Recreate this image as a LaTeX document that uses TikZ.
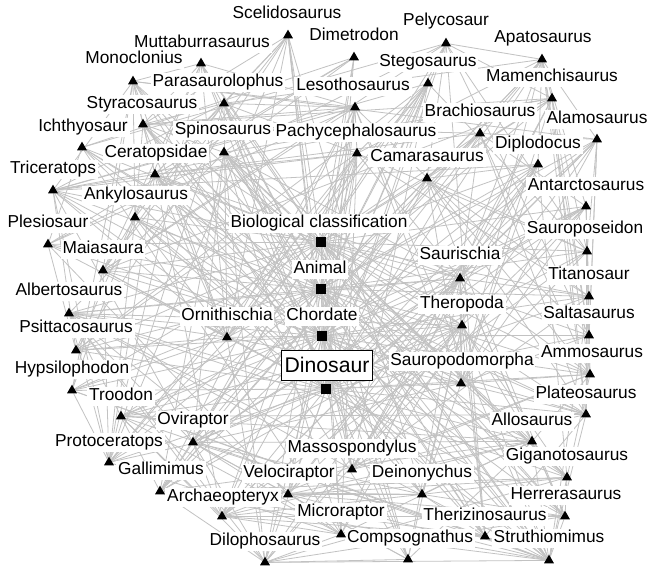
\documentclass[tikz,border=0pt]{standalone}
\usepackage{fontspec}
\setmainfont{Liberation Sans}
\usetikzlibrary{shapes.geometric}
\pgfdeclarelayer{bglayer}
\pgfdeclarelayer{edgelayer}
\pgfdeclarelayer{marklayer}
\pgfsetlayers{bglayer,edgelayer,main,marklayer}
\tikzset{
  edge/.style={draw=black!24, line width=0.8pt},
  tri/.style={regular polygon, regular polygon sides=3, fill=black, draw=none, inner sep=0pt, minimum size=11.5pt},
  sq/.style={rectangle, fill=black, draw=none, inner sep=0pt, minimum size=9.5pt},
  lab/.style={fill=white, inner sep=1.8pt, text height=12.6pt, text depth=3.7pt, font=\fontsize{17.3}{20}\selectfont},
  dinobox/.style={draw=black, line width=0.8pt, fill=white, minimum width=91pt, minimum height=30pt, inner sep=2pt, font=\fontsize{21.2}{25}\selectfont}
}
\def\nodedata{%
dino/Dinosaur/326/389/327/363.5/8/dinobox,
chor/Chordate/322/336/322/315/8/lab,
anim/Animal/321/289/320/268/8/lab,
bio/Biological classification/321/242/319/222/8/lab,
orni/Ornithischia/227/336/227/315/11/lab,
sauri/Saurischia/460/277/460/254/12/lab,
thero/Theropoda/462/324/462/303/13/lab,
saurop/Sauropodomorpha/461/382/462/360/14/lab,
scel/Scelidosaurus/288/34/287/13/1/lab,
mutt/Muttaburrasaurus/201/62/202/42/1/lab,
mono/Monoclonius/133/80/134/58/1/lab,
steg/Stegosaurus/428/82/428/61/1/lab,
para/Parasaurolophus/224/102/218/81/1/lab,
leso/Lesothosaurus/355/106/353/85/1/lab,
styr/Styracosaurus/143/123/142/103/1/lab,
pach/Pachycephalosaurus/357/152/356/131/1/lab,
cera/Ceratopsidae/155/173/156/152/1/lab,
tric/Triceratops/53/189/53/168/1/lab,
anky/Ankylosaurus/135/216/136/194/1/lab,
maia/Maiasaura/103/269/103/248/1/lab,
psit/Psittacosaurus/76/349/76/327/1/lab,
hyps/Hypsilophodon/72/389/72/368/1/lab,
prot/Protoceratops/109/461/109/441/1/lab,
apat/Apatosaurus/542/58/543/37/2/lab,
mame/Mamenchisaurus/552/97/552/76/2/lab,
brac/Brachiosaurus/480/132/480/111/2/lab,
alam/Alamosaurus/597/138/597/118/2/lab,
dipl/Diplodocus/538/163/538/143/2/lab,
cama/Camarasaurus/427/177/427/156/2/lab,
anta/Antarctosaurus/586/205/586/185/2/lab,
saup/Sauroposeidon/587/250/585/228/2/lab,
tita/Titanosaur/589/295/589/274/2/lab,
salt/Saltasaurus/589/334/589/313/2/lab,
ammo/Ammosaurus/590/373/592/352/2/lab,
plat/Plateosaurus/586/413/586/393/2/lab,
mass/Massospondylus/352/468/352/447/2/lab,
spin/Spinosaurus/224/151/223/129/3/lab,
albe/Albertosaurus/69/312/69/290/3/lab,
troo/Troodon/121/415/121/395/3/lab,
allo/Allosaurus/532/440/532/420/3/lab,
ovir/Oviraptor/193/441/193/419/3/lab,
giga/Giganotosaurus/567/476/567/455/3/lab,
gall/Gallimimus/160/490/161/469/3/lab,
velo/Velociraptor/288/493/289/472/3/lab,
dein/Deinonychus/422/493/422/472/3/lab,
herr/Herrerasaurus/565/515/566/494/3/lab,
arch/Archaeopteryx/222/515/223/496/3/lab,
micr/Microraptor/341/533/341/511/3/lab,
ther/Therizinosaurus/485/535/485/515/3/lab,
comp/Compsognathus/408/558/410/537/3/lab,
stru/Struthiomimus/549/559/549/537/3/lab,
dilo/Dilophosaurus/265/561/265/540/3/lab,
pely/Pelycosaur/446/42/446/20/4/lab,
dime/Dimetrodon/354/56/354/35/4/lab,
ichy/Ichthyosaur/82/146/83/126/4/lab,
ples/Plesiosaur/48/243/48/222/4/lab}
\begin{document}
\begin{tikzpicture}[x=1pt,y=-1pt]
\begin{pgfonlayer}{bglayer}
\fill[white] (0,0) rectangle (650,570);
\end{pgfonlayer}
\useasboundingbox (0,0) rectangle (650,570);
% markers
\begin{pgfonlayer}{marklayer}
\foreach \id/\txt/\mx/\my/\lx/\ly/\g/\st in \nodedata {
  \ifnum\g=8\relax
    \node[sq] (\id) at (\mx,\my) {};
  \else
    \node[tri] (\id) at (\mx,\my+1.4) {};
  \fi
}
\end{pgfonlayer}
% connectors
\begin{pgfonlayer}{edgelayer}
\pgfmathsetseed{12}
\foreach \a/\ta/\xa/\ya/\lxa/\lya/\ga/\sa [count=\i] in \nodedata {
  \foreach \b/\tb/\xb/\yb/\lxb/\lyb/\gb/\sb [count=\j] in \nodedata {
    \ifnum\j>\i\relax
      \def\p{0.08}%
      \ifnum\ga=\gb\relax \def\p{0.55}\fi
      \ifnum\ga=8\relax \def\p{0.88}\fi
      \ifnum\ga=11\relax \ifnum\gb=1\relax\def\p{0.9}\fi \ifnum\gb>10\relax\def\p{0.9}\fi\fi
      \ifnum\ga=12\relax \ifnum\gb=2\relax\def\p{0.7}\fi \ifnum\gb=3\relax\def\p{0.7}\fi \ifnum\gb>10\relax\def\p{0.9}\fi\fi
      \ifnum\ga=13\relax \ifnum\gb=3\relax\def\p{0.9}\fi \ifnum\gb>10\relax\def\p{0.9}\fi\fi
      \ifnum\ga=14\relax \ifnum\gb=2\relax\def\p{0.9}\fi \ifnum\gb>10\relax\def\p{0.9}\fi\fi
      \pgfmathsetmacro\r{rnd}%
      \ifdim\r pt<\p pt\relax
        \draw[edge] (\a) -- (\b);
      \fi
    \fi
  }
}
\end{pgfonlayer}
% labels
\foreach \id/\txt/\mx/\my/\lx/\ly/\g/\st in \nodedata {
  \node[\st] (L\id) at (\lx,\ly+1.5) {\txt};
}
\end{tikzpicture}
\end{document}
